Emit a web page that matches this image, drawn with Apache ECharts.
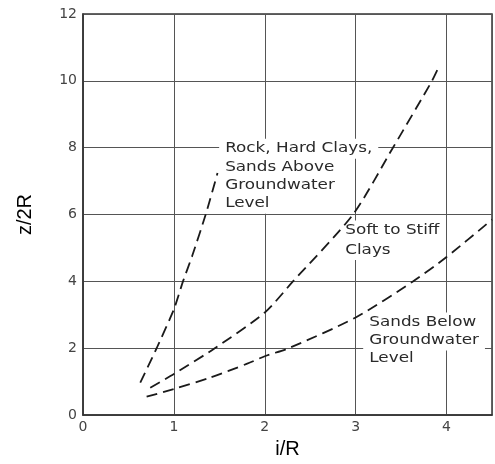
<!DOCTYPE html>
<html>
<head>
<meta charset="utf-8">
<script src="https://cdn.jsdelivr.net/npm/echarts@6/dist/echarts.min.js"></script>
<style>
html,body{margin:0;padding:0;background:#fff;}
#c{width:495px;height:464px;}
</style>
</head>
<body>
<div id="c"></div>
<script>
// Data
const rockX = [0.63, 0.81, 1.00, 1.10, 1.20, 1.35, 1.48];
const rockY = [0.97, 2.00, 3.16, 4.00, 4.75, 6.00, 7.24];

const softX = [0.74, 1.00, 1.45, 2.00, 2.31, 2.97, 3.41, 3.84, 3.92];
const softY = [0.82, 1.23, 2.00, 3.07, 4.00, 6.00, 8.00, 10.00, 10.45];

const sandX = [0.70, 1.00, 1.40, 1.80, 2.00, 2.28, 3.00, 3.63, 4.00, 4.50];
const sandY = [0.55, 0.78, 1.12, 1.53, 1.76, 2.02, 2.92, 4.00, 4.73, 5.85];

const rockLabel = ['Rock, Hard Clays,', 'Sands Above', 'Groundwater', 'Level'];
const softLabel = ['Soft to Stiff', 'Clays'];
const sandLabel = ['Sands Below', 'Groundwater', 'Level'];

const xName = 'i/R';
const yName = 'z/2R';

// annotation anchors (data coordinates of first line, left edge of text)
const annotations = [
  { lines: rockLabel, at: [1.564, 7.97], step: 0.55 },
  { lines: softLabel, at: [2.885, 5.52], step: 0.58 },
  { lines: sandLabel, at: [3.15, 2.77], step: 0.54 }
];

const zip = (xs, ys) => xs.map((x, i) => [x, ys[i]]);

const chart = echarts.init(document.getElementById('c'), null, { renderer: 'canvas' });

const tickFont = '"DejaVu Sans", sans-serif';
const dash = { color: '#1a1a1a', width: 1.8, type: [11, 6] };

chart.setOption({
  animation: false,
  backgroundColor: '#fff',
  grid: { left: 83, right: 3, top: 14, bottom: 39, show: true, borderColor: '#333', borderWidth: 1.5, backgroundColor: 'transparent' },
  xAxis: {
    type: 'value', min: 0, max: 4.5, interval: 1,
    name: xName, nameLocation: 'middle', nameGap: 20,
    nameTextStyle: { fontFamily: '"Liberation Sans", Arial, sans-serif', fontSize: 20, color: '#000' },
    axisLine: { show: true, lineStyle: { color: '#333', width: 1.5 } },
    axisTick: { show: false },
    axisLabel: { showMaxLabel: false, margin: 5, fontFamily: tickFont, fontSize: 14, color: '#444' },
    splitLine: { show: true, lineStyle: { color: '#555', width: 1 } }
  },
  yAxis: {
    type: 'value', min: 0, max: 12, interval: 2,
    name: yName, nameLocation: 'middle', nameGap: 48, nameRotate: 90,
    nameTextStyle: { fontFamily: '"Liberation Sans", Arial, sans-serif', fontSize: 20, color: '#000' },
    axisLine: { show: true, lineStyle: { color: '#333', width: 1.5 } },
    axisTick: { show: false },
    axisLabel: { margin: 6, fontFamily: tickFont, fontSize: 14, color: '#444' },
    splitLine: { show: true, lineStyle: { color: '#555', width: 1 } }
  },
  series: [
    { type: 'line', data: zip(rockX, rockY), showSymbol: false, smooth: 0.15, lineStyle: dash, z: 3 },
    { type: 'line', data: zip(softX, softY), showSymbol: false, smooth: 0.25, lineStyle: dash, z: 3 },
    { type: 'line', data: zip(sandX, sandY), showSymbol: false, smooth: 0.25, lineStyle: dash, z: 3 }
  ]
});

const sx = 1.2, padX = 5;
const elements = [];
annotations.forEach(a => {
  a.lines.forEach((t, i) => {
    const p = chart.convertToPixel({ gridIndex: 0 }, [a.at[0], a.at[1] - i * a.step]);
    elements.push({
      type: 'text', x: p[0] - padX * sx, y: p[1], scaleX: sx, z: 1,
      style: {
        text: t, font: '14px "DejaVu Sans", sans-serif', fill: '#2a2a2a',
        align: 'left', verticalAlign: 'middle',
        backgroundColor: '#fff', padding: [3, padX]
      }
    });
  });
});
chart.setOption({ graphic: { elements } });
</script>
</body>
</html>
